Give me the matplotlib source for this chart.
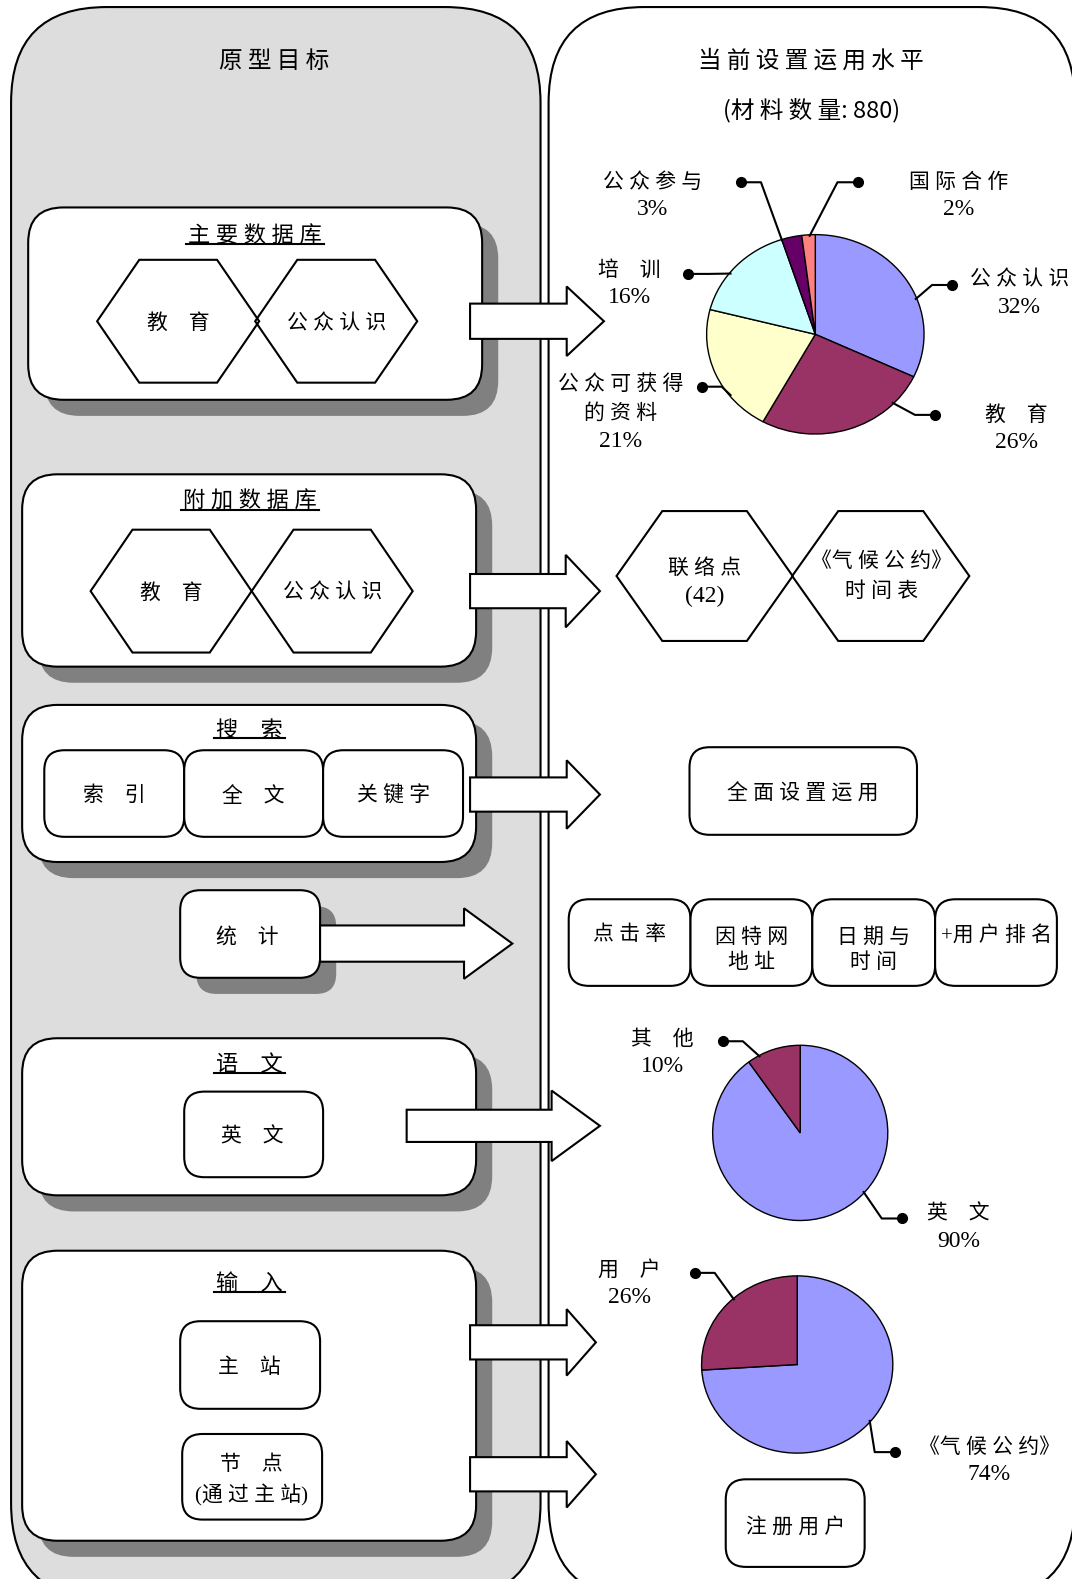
import numpy as np
import matplotlib
matplotlib.use("Agg")
from matplotlib import pyplot as plt
from matplotlib.patches import FancyBboxPatch, Polygon

W, H = 1065, 1568
plt.rcParams['font.family'] = ['Liberation Serif', 'Noto Sans CJK SC']
SANS = ['Noto Sans CJK SC', 'DejaVu Sans']

# ---- data ----
topic_labels = ["公 众 认 识", "教　育", "公 众 可 获 得\n的 资 料", "培　训", "公 众 参 与", "国 际 合 作"]
topic_values = [32, 26, 21, 16, 3, 2]
topic_colors = ["#9999FF", "#993366", "#FFFFCC", "#CCFFFF", "#660066", "#FF8080"]

lang_labels = ["英　文", "其　他"]
lang_values = [90, 10]
lang_colors = ["#9999FF", "#993366"]

input_labels = ["《气 候 公 约》", "用　户"]
input_values = [74, 26]
input_colors = ["#9999FF", "#993366"]

stat_labels = ["点 击 率", "因 特 网\n地 址", "日 期 与\n时 间", "+用 户 排 名"]
search_labels = ["索　引", "全　文", "关 键 字"]

fig = plt.figure(figsize=(10.72, 15.79), dpi=100)
ax = fig.add_axes([0, 0, 1, 1])
ax.set_xlim(0, W)
ax.set_ylim(H, 0)
ax.axis('off')


def rbox(x0, y0, x1, y1, r, fc='white', shadow=False, lw=1.5, z=2):
    style = "round,pad=0,rounding_size=%g" % r
    if shadow:
        ax.add_patch(FancyBboxPatch((x0 + 16, y0 + 16), x1 - x0, y1 - y0, boxstyle=style,
                                    fc='#808080', ec='none', zorder=z))
    ax.add_patch(FancyBboxPatch((x0, y0), x1 - x0, y1 - y0, boxstyle=style,
                                fc=fc, ec='black', lw=lw, zorder=z + 0.1))


def hexagon(cx, cy, w, h, z=4):
    d = w * 0.26
    pts = [(cx - w / 2, cy), (cx - w / 2 + d, cy - h / 2), (cx + w / 2 - d, cy - h / 2),
           (cx + w / 2, cy), (cx + w / 2 - d, cy + h / 2), (cx - w / 2 + d, cy + h / 2)]
    ax.add_patch(Polygon(pts, closed=True, fc='none', ec='black', lw=1.5, zorder=z))


def arrow(x0, x1, x2, y, hb, hh, z=6):
    pts = [(x0, y - hb), (x1, y - hb), (x1, y - hh), (x2, y), (x1, y + hh), (x1, y + hb), (x0, y + hb)]
    ax.add_patch(Polygon(pts, closed=True, fc='white', ec='black', lw=1.5, zorder=z))


def txt(x, y, s, size=15, fam=None, z=8, ls=1.45, dy=3):
    return ax.text(x, y + dy, s, ha='center', va='center', fontsize=size, zorder=z,
                   family=fam if fam else plt.rcParams['font.family'], linespacing=ls)


# ---- panels ----
rbox(11, 7, 537, 1588, 95, fc='#DDDDDD', z=0)
rbox(545, 7, 1068, 1588, 95, fc='white', z=0)
txt(272, 58, "原 型 目 标", size=17, fam=SANS)
txt(806, 58, "当 前 设 置 运 用 水 平", size=17, fam=SANS)
txt(806, 106, "(材 料 数 量: 880)", size=17, fam=SANS)

underlined = []

# main database
rbox(28, 206, 479, 397, 35, shadow=True)
underlined.append(txt(253, 232, "主 要 数 据 库", size=16))
hexagon(177, 319, 161, 122)
hexagon(334, 319, 161, 122)
txt(177, 319, "教　育")
txt(334, 319, "公 众 认 识")
arrow(467, 563, 600, 319, 17.5, 34.5)

# additional database
rbox(22, 471, 473, 662, 35, shadow=True)
underlined.append(txt(248, 496, "附 加 数 据 库", size=16))
hexagon(170, 587, 160, 122)
hexagon(330, 587, 160, 122)
txt(170, 587, "教　育")
txt(330, 587, "公 众 认 识")
arrow(467, 562, 596, 587, 17, 36)

hexagon(700, 572, 175, 129)
hexagon(875, 572, 176, 129)
txt(700, 562, "联 络 点")
txt(700, 592, "(42)", size=17, dy=0)
txt(876, 555, "《气 候 公 约》")
txt(876, 585, "时 间 表")

# search
rbox(22, 700, 473, 856, 35, shadow=True)
underlined.append(txt(248, 723, "搜　索", size=16))
sx = [44, 183, 321, 460]
for i, lab in enumerate(search_labels):
    rbox(sx[i], 745, sx[i + 1], 831, 20, z=4)
    txt((sx[i] + sx[i + 1]) / 2, 788, lab)
arrow(467, 563, 596, 789, 17, 34)
rbox(685, 742, 911, 829, 20, z=4)
txt(798, 786, "全 面 设 置 运 用")

# statistics
rbox(179, 884, 318, 971, 20, shadow=True, z=4)
txt(246, 928, "统　计")
arrow(318, 461, 509, 937, 18, 35)
rx_ = [565, 686, 807, 929, 1050]
for i, lab in enumerate(stat_labels):
    rbox(rx_[i], 893, rx_[i + 1], 979, 20, z=4)
    ny = lab.count("\n")
    txt((rx_[i] + rx_[i + 1]) / 2, 926 + 15 * ny, lab, ls=1.35)

# language
rbox(22, 1031, 473, 1187, 35, shadow=True)
underlined.append(txt(248, 1055, "语　文", size=16))
rbox(183, 1084, 321, 1169, 20, z=4)
txt(251, 1127, "英　文")
arrow(404, 548, 596, 1118, 16, 35)

# input
rbox(22, 1242, 473, 1530, 35, shadow=True)
underlined.append(txt(248, 1273, "输　入", size=16))
rbox(179, 1312, 318, 1399, 20, z=4)
txt(248, 1356, "主　站")
rbox(181, 1424, 320, 1509, 20, z=4)
txt(250, 1452, "节　点")
txt(250, 1482, "(通 过 主 站)")
arrow(467, 563, 592, 1333, 17, 33)
arrow(467, 563, 592, 1464, 17, 33)
rbox(721, 1469, 859, 1556, 20, z=4)
txt(790, 1514, "注 册 用 户")

# ---- pies ----
top = fig.add_axes([0, 0, 1, 1], zorder=10)
top.set_xlim(0, W)
top.set_ylim(H, 0)
top.patch.set_alpha(0)
top.axis('off')


def pie(values, colors, labels, cx, cy, rx, ry, places):
    m = 1.03
    pa = fig.add_axes([(cx - rx * m) / W, 1 - (cy + ry * m) / H, 2 * rx * m / W, 2 * ry * m / H], zorder=5)
    pa.pie(values, colors=colors, startangle=90, counterclock=False,
           wedgeprops=dict(edgecolor='black', linewidth=1.0))
    pa.set_xlim(-m, m)
    pa.set_ylim(-m, m)
    pa.set_aspect('auto')
    pa.axis('off')
    for i, v in enumerate(values):
        tx, ty, dx, dy, ang = places[i]
        th = np.radians(ang)
        sx0 = cx + rx * 0.99 * np.cos(th)
        sy0 = cy - ry * 0.99 * np.sin(th)
        ex = dx + (20 if dx < sx0 else -20)
        top.plot([sx0, ex, dx], [sy0, dy, dy], color='black', lw=1.5)
        top.plot([dx], [dy], 'o', color='black', ms=7)
        lines = labels[i].split("\n")
        for k, ln in enumerate(lines):
            top.text(tx, ty + 29.5 * k + 3, ln, ha='center', va='center', fontsize=15)
        top.text(tx, ty + 29.5 * len(lines), "%d%%" % v, ha='center', va='center', fontsize=17)


pie(topic_values, topic_colors, topic_labels, 810, 332, 108, 99,
    [(1013, 276, 946, 283, 21), (1010, 410, 929, 412, -44), (617, 379, 697, 384, 218),
     (625, 266, 684, 272, 142), (648, 179, 736, 181, 108), (952, 179, 852, 181, 93)])
pie(lang_values, lang_colors, lang_labels, 795, 1125, 87, 87,
    [(952, 1203, 896, 1210, -43), (658, 1030, 718, 1034, 118)])
pie(input_values, input_colors, input_labels, 792, 1355, 95, 88,
    [(983, 1435, 889, 1442, -40), (625, 1259, 690, 1264, 132)])

# underline the section titles
fig.canvas.draw()
inv = ax.transData.inverted()
for t in underlined:
    bb = t.get_window_extent()
    (x0, y0), (x1, y1) = inv.transform([[bb.x0, bb.y0], [bb.x1, bb.y1]])
    ax.plot([x0 - 2, x1 + 2], [max(y0, y1) - 3, max(y0, y1) - 3], color='black', lw=1.5, zorder=9)

fig.savefig("out.png", dpi=100)
